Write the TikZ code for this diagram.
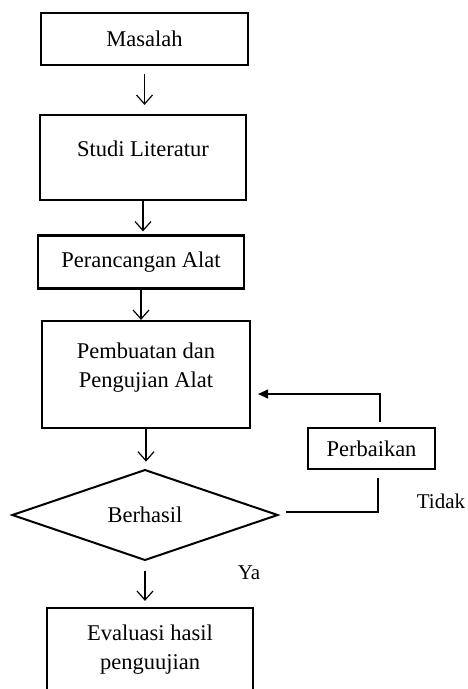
\documentclass[tikz,border=0pt]{standalone}
\usepackage{fontspec}
\setmainfont{Liberation Serif}
\usetikzlibrary{arrows.meta, shapes.geometric}

\begin{document}
\begin{tikzpicture}[x=1pt, y=-1pt, font=\fontsize{22.5}{29}\selectfont,
    >={Straight Barb[length=9pt, width=16pt]},
    box/.style={draw, line width=2.2pt, minimum width=206pt, inner sep=0pt},
    cond/.style={draw, diamond, line width=2pt, minimum width=266pt,
                 minimum height=90pt, inner sep=0pt},
    flow/.style={line width=1.2pt},
    lbl/.style={font=\fontsize{21}{25}\selectfont}]
  \clip (0,0) rectangle (468,689);
  \node[box, minimum width=207pt, minimum height=52pt] (masalah) at (144.5,39) {Masalah};
  \node[box, text height=41pt, text depth=44pt] (studi) at (143,157.5) {Studi Literatur};
  \node[box, minimum height=53pt] (rancang) at (141,262) {Perancangan Alat};
  \node[box, minimum width=208pt, text height=37pt, text depth=70pt] (buat) at (146,374.5)
    {\begin{tabular}[t]{@{}c@{}}Pembuatan dan\\Pengujian Alat\end{tabular}};
  \node[cond] (berhasil) at (145,515) {Berhasil};
  \node[box, text height=32pt, text depth=70pt] (evaluasi) at (150,659)
    {\begin{tabular}[t]{@{}c@{}}Evaluasi hasil\\penguujian\end{tabular}};
  \node[box, minimum width=127pt, minimum height=41pt] (perbaikan) at (371.5,448.5) {Perbaikan};
  \node[lbl] (tidak) at (441,501) {Tidak};
  \node[lbl] (ya) at (249,572.5) {Ya};
  % main flow
  \draw[flow, ->, shorten <=8pt, shorten >=9pt] (masalah.south) -- (masalah.south |- studi.north);
  \draw[flow, ->, shorten >=3pt] (studi.south) -- (studi.south |- rancang.north);
  \draw[flow, ->] (rancang.south) -- (rancang.south |- buat.north);
  \draw[flow, ->, shorten >=7pt] (buat.south) -- (buat.south |- berhasil.north);
  \draw[flow, ->, shorten <=10pt, shorten >=6pt] (berhasil.south) -- (berhasil.south |- evaluasi.north);
  % loop back
  \coordinate (tk) at (378,512);
  \coordinate (fb) at (380,394);
  \draw[flow, shorten <=7pt, shorten >=8pt] (berhasil.east |- tk) -- (tk) -- (tk |- perbaikan.south);
  \draw[flow, -{Triangle[length=10pt, width=9pt]}, shorten <=5pt, shorten >=7pt]
    (fb |- perbaikan.north) -- (fb) -- (buat.east |- fb);
\end{tikzpicture}
\end{document}
